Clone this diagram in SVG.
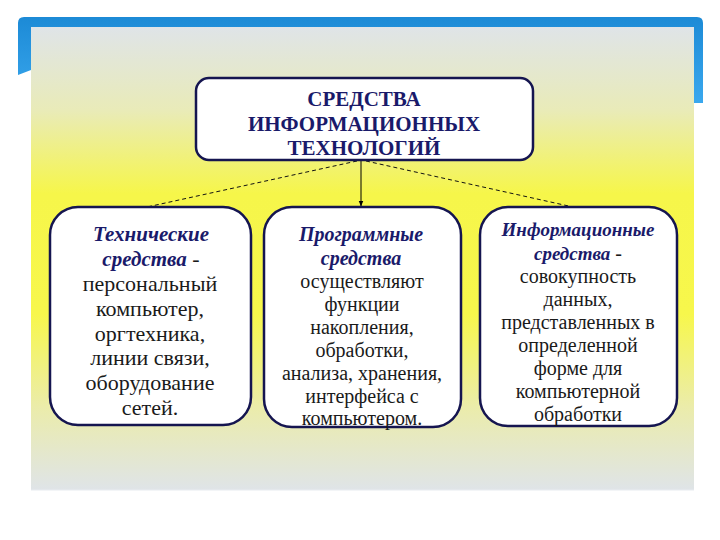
<svg xmlns="http://www.w3.org/2000/svg" width="720" height="540" viewBox="0 0 720 540">
<defs>
<linearGradient id="panel" x1="0" y1="0" x2="0" y2="1">
<stop offset="0" stop-color="#dfe4e8"/>
<stop offset="0.18" stop-color="#e9ebb8"/>
<stop offset="0.36" stop-color="#f6f64a"/>
<stop offset="0.62" stop-color="#f7f74c"/>
<stop offset="0.82" stop-color="#ebecaa"/>
<stop offset="1" stop-color="#dfe4e8"/>
</linearGradient>
<linearGradient id="blueV" x1="0" y1="0" x2="0" y2="1">
<stop offset="0" stop-color="#1c8ad6"/>
<stop offset="1" stop-color="#3aa8ee"/>
</linearGradient>
<marker id="arr" viewBox="0 0 10 10" refX="9" refY="5" markerWidth="6" markerHeight="6" orient="auto">
<path d="M0,1 L10,5 L0,9 z" fill="#000"/>
</marker>
</defs>
<style>
.box{fill:#ffffff;stroke:#151550;stroke-width:2.5}
.ttl{font-family:"Liberation Serif","Times New Roman",serif;font-weight:bold;fill:#1a1a6a;text-anchor:middle;font-size:21px}
.hd{font-family:"Liberation Serif","Times New Roman",serif;font-weight:bold;font-style:italic;fill:#1a1a6a}
.bd{font-family:"Liberation Serif","Times New Roman",serif;fill:#1a1a1a;text-anchor:middle}
.dash{stroke:#111;stroke-width:1;stroke-dasharray:4 3;fill:none}
</style>
<rect width="720" height="540" fill="#ffffff"/>
<!-- slide frame -->
<path d="M18,75 L18,23 Q18,17 24,17 L697,17 Q703,17 703,23 L703,103 L694,103 L694,27 L31,27 L31,70 Z" fill="url(#blueV)"/>
<rect x="31" y="27" width="663" height="463" fill="url(#panel)"/>
<line x1="31" y1="490" x2="694" y2="490" stroke="#e8ecf0" stroke-width="1"/>

<g id="connectors">
<line x1="361" y1="160" x2="361" y2="206" stroke="#000" stroke-width="1" marker-end="url(#arr)"/>
<line class="dash" x1="357" y1="161" x2="147" y2="207"/>
<line class="dash" x1="366" y1="161" x2="573" y2="207"/>
</g>

<g id="root">
<rect class="box" x="196" y="78" width="337" height="82" rx="13"/>
<text class="ttl" x="364" y="106">СРЕДСТВА</text>
<text class="ttl" x="364" y="131">ИНФОРМАЦИОННЫХ</text>
<text class="ttl" x="364" y="155">ТЕХНОЛОГИЙ</text>
</g>

<g id="technical">
<rect class="box" x="50" y="207" width="201" height="218" rx="28"/>
<text class="hd" x="151" y="241" font-size="21" text-anchor="middle">Технические</text>
<text x="151" y="266" text-anchor="middle" font-family="Liberation Serif, serif" font-size="21"><tspan class="hd">средства</tspan><tspan fill="#1a1a1a" font-size="22"> -</tspan></text>
<text class="bd" x="150" y="291" font-size="22">персональный</text>
<text class="bd" x="150" y="316" font-size="22">компьютер,</text>
<text class="bd" x="150" y="341" font-size="22">оргтехника,</text>
<text class="bd" x="150" y="365" font-size="22">линии связи,</text>
<text class="bd" x="150" y="390" font-size="22">оборудование</text>
<text class="bd" x="150" y="415" font-size="22">сетей.</text>
</g>

<g id="software">
<rect class="box" x="264" y="207" width="197" height="220" rx="28"/>
<text class="hd" x="361" y="241" font-size="20" text-anchor="middle">Программные</text>
<text class="hd" x="361" y="265" font-size="20" text-anchor="middle">средства</text>
<text class="bd" x="362" y="288" font-size="20">осуществляют</text>
<text class="bd" x="362" y="311" font-size="20">функции</text>
<text class="bd" x="362" y="334" font-size="20">накопления,</text>
<text class="bd" x="362" y="357" font-size="20">обработки,</text>
<text class="bd" x="362" y="380" font-size="20">анализа, хранения,</text>
<text class="bd" x="362" y="403" font-size="20">интерфейса с</text>
<text class="bd" x="362" y="425" font-size="20">компьютером.</text>
</g>

<g id="information">
<rect class="box" x="480" y="207" width="197" height="219" rx="28"/>
<text class="hd" x="578" y="236" font-size="19" text-anchor="middle">Информационные</text>
<text x="578" y="260" text-anchor="middle" font-family="Liberation Serif, serif" font-size="19"><tspan class="hd">средства</tspan><tspan fill="#1a1a1a" font-size="20"> -</tspan></text>
<text class="bd" x="578" y="283" font-size="20">совокупность</text>
<text class="bd" x="578" y="306" font-size="20">данных,</text>
<text class="bd" x="578" y="329" font-size="20">представленных в</text>
<text class="bd" x="578" y="352" font-size="20">определенной</text>
<text class="bd" x="578" y="375" font-size="20">форме для</text>
<text class="bd" x="578" y="398" font-size="20">компьютерной</text>
<text class="bd" x="578" y="421" font-size="20">обработки</text>
</g>
</svg>
